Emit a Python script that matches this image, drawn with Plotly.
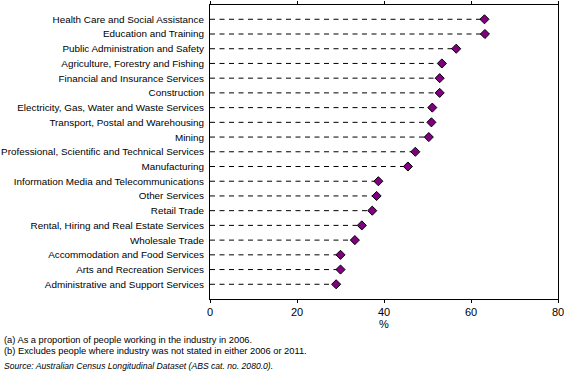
import plotly.graph_objects as go

industries = [
    "Health Care and Social Assistance",
    "Education and Training",
    "Public Administration and Safety",
    "Agriculture, Forestry and Fishing",
    "Financial and Insurance Services",
    "Construction",
    "Electricity, Gas, Water and Waste Services",
    "Transport, Postal and Warehousing",
    "Mining",
    "Professional, Scientific and Technical Services",
    "Manufacturing",
    "Information Media and Telecommunications",
    "Other Services",
    "Retail Trade",
    "Rental, Hiring and Real Estate Services",
    "Wholesale Trade",
    "Accommodation and Food Services",
    "Arts and Recreation Services",
    "Administrative and Support Services",
]
values = [63.1, 63.2, 56.6, 53.3, 52.8, 52.8, 51.1, 50.9, 50.3, 47.2, 45.5,
          38.7, 38.3, 37.3, 34.9, 33.3, 30.0, 30.0, 29.0]
x_ticks = [0, 20, 40, 60, 80]
x_title = "%"
footnotes = [
    "(a) As a proportion of people working in the industry in 2006.",
    "(b) Excludes people where industry was not stated in either 2006 or 2011.",
]
source = "Source: Australian Census Longitudinal Dataset (ABS cat. no. 2080.0)."

FONT = "Liberation Sans"
ypos = list(range(len(industries)))

lx, ly = [], []
for i, v in zip(ypos, values):
    lx += [0, v, None]
    ly += [i, i, None]

fig = go.Figure()
fig.add_trace(go.Scatter(x=lx, y=ly, mode="lines",
                         line=dict(color="black", width=1, dash="5px,4.5px"),
                         hoverinfo="skip", showlegend=False))
fig.add_trace(go.Scatter(x=values, y=ypos, mode="markers",
                         marker=dict(symbol="diamond", size=7, color="#800080",
                                     line=dict(color="black", width=1)),
                         showlegend=False))

fig.update_layout(
    width=567, height=378,
    margin=dict(l=210, r=9, t=5, b=79),
    paper_bgcolor="white", plot_bgcolor="white",
    font=dict(family=FONT, size=11, color="black"),
    xaxis=dict(range=[0, 80], tickvals=x_ticks, ticktext=[str(t) for t in x_ticks],
               showgrid=False, zeroline=False, showline=True, linecolor="black",
               linewidth=1, mirror="ticks", ticks="outside", ticklen=3,
               tickcolor="black", automargin=False,
               title=dict(text=x_title, standoff=2, font=dict(size=11)),
               tickfont=dict(size=11)),
    yaxis=dict(range=[len(industries) - 0.0, -0.97], tickvals=ypos,
               ticktext=industries, showgrid=False, zeroline=False,
               showline=True, linecolor="black", linewidth=1, mirror=True,
               ticks="", ticklabelstandoff=3, automargin=False,
               tickfont=dict(size=9.9)),
)

ann_y = [340, 350.5]
for t, yy in zip(footnotes, ann_y):
    fig.add_annotation(text=t, xref="paper", yref="paper", x=-208/348, xanchor="left",
                       y=1 - (yy - 5) / 294, yanchor="middle", showarrow=False,
                       font=dict(family=FONT, size=9.3, color="black"))
fig.add_annotation(text="<i>" + source + "</i>", xref="paper", yref="paper",
                   x=-208/348, xanchor="left", y=1 - (366 - 5) / 294, yanchor="middle",
                   showarrow=False, font=dict(family=FONT, size=8.6, color="black"))

fig.write_html("out.html", config={"displayModeBar": False},
               post_script="document.body.style.margin='0';document.body.style.padding='0';")
